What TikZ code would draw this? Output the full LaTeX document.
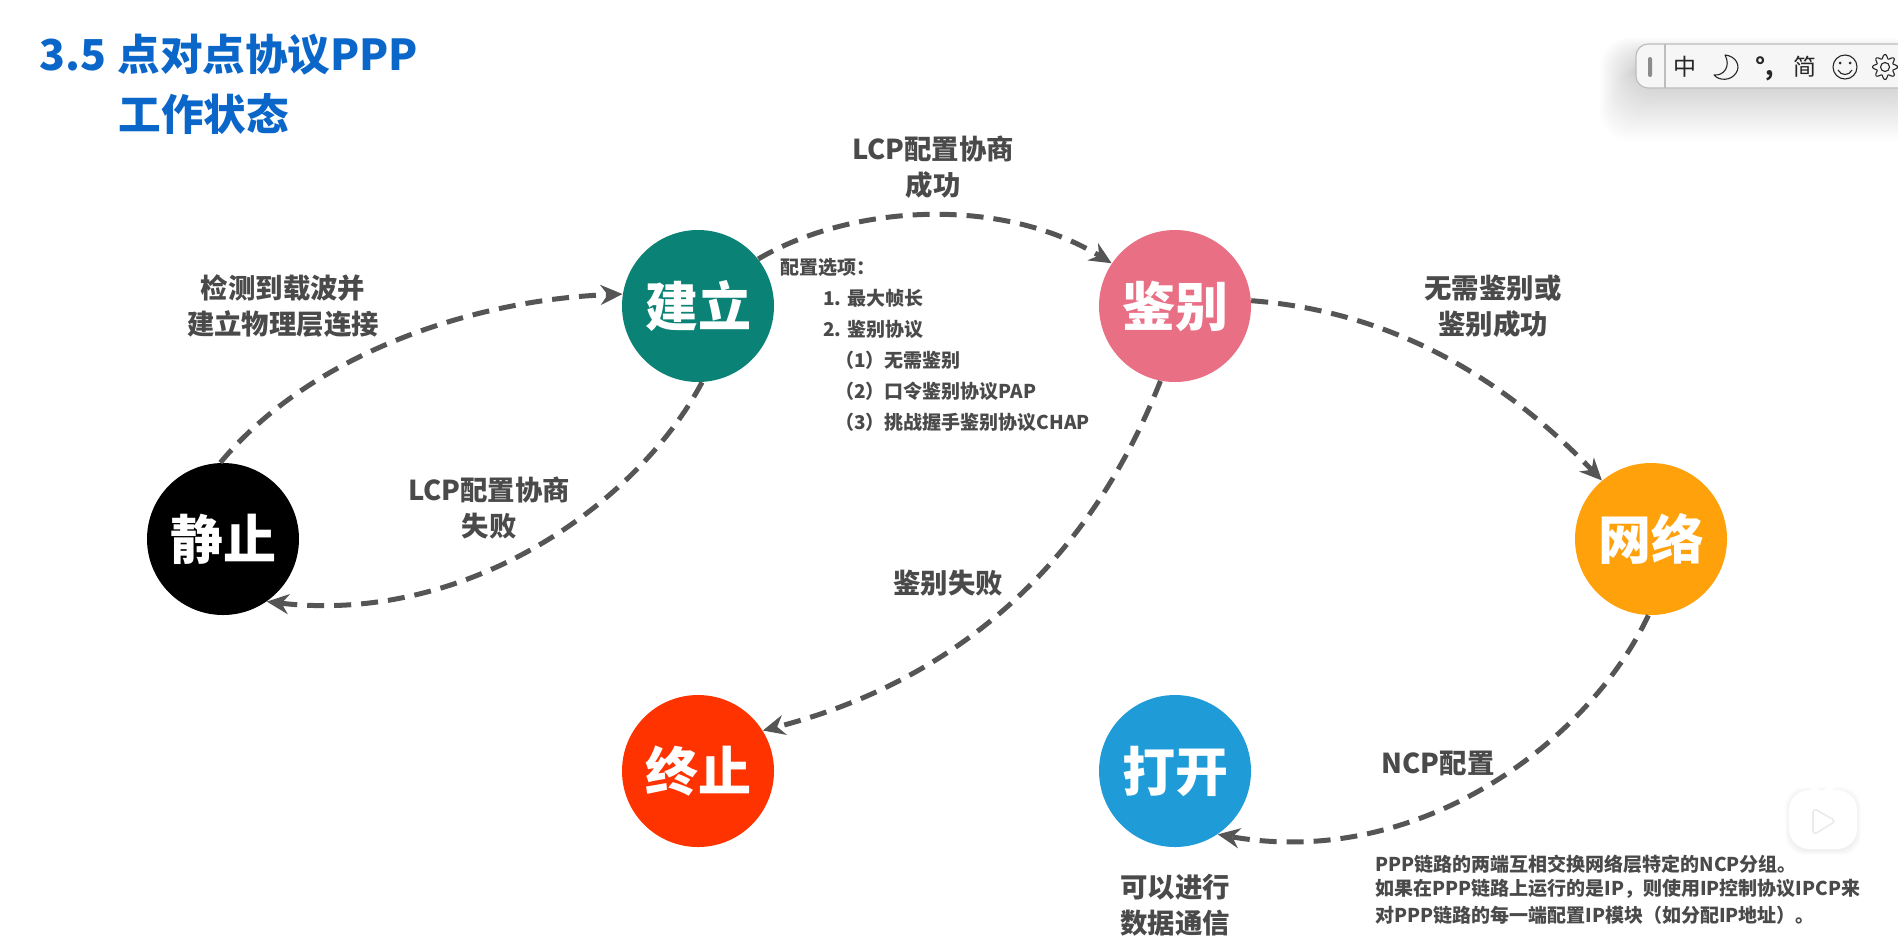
\documentclass[tikz,border=0pt]{standalone}
\usepackage{fontspec}
\setmainfont{Noto Sans CJK SC}
\usetikzlibrary{arrows.meta}
\definecolor{lineGray}{HTML}{555555}
\definecolor{txtGray}{HTML}{4A4A4A}
\definecolor{titleBlue}{HTML}{0A66C8}
\definecolor{cTeal}{HTML}{0A8275}
\definecolor{cPink}{HTML}{E96F85}
\definecolor{cOrange}{HTML}{FFA10A}
\definecolor{cRed}{HTML}{FF3300}
\definecolor{cBlue}{HTML}{1F9BD7}
\definecolor{barBg}{HTML}{F6F6F6}
\definecolor{barEdge}{HTML}{BDBDBD}
\tikzset{
  state/.style={circle,minimum size=76pt,inner sep=0pt,text=white,font=\fontsize{26.5}{30}\selectfont\bfseries},
  flow/.style={draw=lineGray,line width=2.5pt,dash pattern=on 8.5pt off 5pt,-{Stealth[length=11pt,width=10pt]}},
  lbl/.style={text=txtGray,align=center,inner sep=0pt,font=\fontsize{13.7}{18}\selectfont\bfseries},
  small/.style={text=txtGray,anchor=west,inner sep=0pt,font=\fontsize{9.5}{12.6}\selectfont\bfseries},
  ttl/.style={text=titleBlue,anchor=west,inner sep=0pt,font=\fontsize{21.3}{26}\selectfont\bfseries},
  imetxt/.style={text=black!85,inner sep=0pt,font=\fontsize{11.5}{13}\selectfont},
  imeline/.style={draw=black!85,line width=.55pt,fill=none}
}
\begin{document}
\begin{tikzpicture}[x=.5pt,y=-.5pt]
\useasboundingbox (0,0) rectangle (1898,949);
\fill[white] (0,0) rectangle (1898,949);
\clip (0,0) rectangle (1898,949);

% title
\node[ttl] (t1) at (39,55) {3.5};
\node[ttl] (t2) at (117,55) {点对点协议PPP};
\node[ttl] (t3) at (118,114) {工作状态};

% states
\node[state,fill=black]   (jz) at (223,539) {静止};
\node[state,fill=cTeal]   (jl) at (698,306) {建立};
\node[state,fill=cPink]   (jb) at (1175,306) {鉴别};
\node[state,fill=cOrange] (wl) at (1651,539) {网络};
\node[state,fill=cRed]    (zz) at (698,771) {终止};
\node[state,fill=cBlue]   (dk) at (1175,771) {打开};

% connectors
\draw[flow] (jz.92) .. controls (310,355) and (470,300) .. (jl.171);
\draw[flow] (jl.-87) .. controls (640,500) and (470,625) .. (jz.-55);
\draw[flow] (jl.38) .. controls (850,205) and (1000,195) .. (jb.146);
\draw[flow] (jb.4) .. controls (1400,312) and (1510,385) .. (wl.130);
\draw[flow] (jb.-101) .. controls (1090,560) and (960,680) .. (zz.32);
\draw[flow] (wl.-92) .. controls (1590,740) and (1420,870) .. (dk.-56);

% labels
\node[lbl] (a) at (283,306) {检测到载波并\\建立物理层连接};
\node[lbl] (b) at (933,167) {LCP配置协商\\成功};
\node[lbl] (c) at (489,508) {LCP配置协商\\失败};
\node[lbl] (d) at (948,583) {鉴别失败};
\node[lbl] (e) at (1493,306) {无需鉴别或\\鉴别成功};
\node[lbl] (f) at (1438,763) {NCP配置};
\node[lbl] (g) at (1175,905) {可以进行\\数据通信};

% options
\node[small] (o0) at (780,267) {配置选项：};
\node[small] (o1) at (823,298) {1. 最大帧长};
\node[small] (o2) at (823,329) {2. 鉴别协议};
\node[small] (o3) at (835,360) {（1）无需鉴别};
\node[small] (o4) at (835,391) {（2）口令鉴别协议PAP};
\node[small] (o5) at (835,422) {（3）挑战握手鉴别协议CHAP};

% note
\node[small] (n1) at (1375,864) {PPP链路的两端互相交换网络层特定的NCP分组。};
\node[small] (n2) at (1375,889) {如果在PPP链路上运行的是IP，则使用IP控制协议IPCP来};
\node[small] (n3) at (1375,915) {对PPP链路的每一端配置IP模块（如分配IP地址）。};

% video badge
\foreach \k in {0,...,4}{
  \fill[black,opacity=.012,rounded corners=10pt] (1789-\k,791-\k) rectangle (1857+\k,851+\k);
}
\fill[white,rounded corners=10pt] (1789,790) rectangle (1857,849);
\draw[white,line width=2.5pt,line cap=round] (1806,782) -- (1818,792) (1838,782) -- (1826,792);
\draw[black!8,line width=.8pt,line join=round,rounded corners=2pt] (1813,808) -- (1836,821) -- (1813,835) -- cycle;

% input method bar
\foreach \k in {1,...,24}{
  \fill[black,opacity=.007,rounded corners=14pt] (1636-1.5*\k,62-\k) rectangle (1920,78+2.6*\k);
}
\fill[barBg,rounded corners=6pt,draw=barEdge,line width=.6pt] (1636,44) rectangle (1920,88);
\draw[barEdge,line width=.6pt] (1665,44) -- (1665,88);
\fill[black!45,rounded corners=1pt] (1648,57) rectangle (1652,77);
\node[imetxt] (i1) at (1685,67) {中};
\draw[imeline,line join=round] (1725,55) .. controls (1736,56) and (1741,66) .. (1736,73) .. controls (1731,81) and (1719,81) .. (1714,75) .. controls (1724,76) and (1731,66) .. (1725,55) -- cycle;
\node[imetxt,font=\fontsize{12}{13}\selectfont\bfseries] (i2) at (1765,69) {°,};
\node[imetxt] (i3) at (1805,67) {简};
\draw[imeline] (1845,67) circle[radius=12];
\fill[black!85] (1840,63) circle[radius=1.5] (1850,63) circle[radius=1.5];
\draw[imeline] (1838,70) .. controls (1841,76) and (1849,76) .. (1852,70);
\draw[imeline,line join=round] plot[domain=0:360,samples=121,smooth] ({1885+(10.5+2*cos(8*\x))*cos(\x)},{67+(10.5+2*cos(8*\x))*sin(\x)}) -- cycle;
\draw[imeline] (1885,67) circle[radius=4.5];
\end{tikzpicture}
\end{document}
